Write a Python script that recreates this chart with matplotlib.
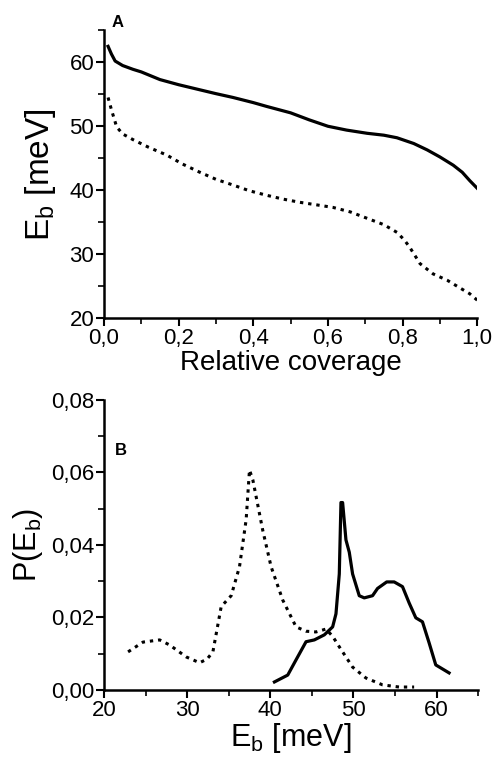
import numpy as np
import matplotlib
matplotlib.use("Agg")
import matplotlib.pyplot as plt
from matplotlib.ticker import MultipleLocator, FuncFormatter

plt.rcParams['font.family'] = ['Liberation Sans', 'DejaVu Sans']

# panel A: binding energy vs relative coverage
cov_solid = [0.011, 0.02, 0.03, 0.05, 0.078, 0.1, 0.15, 0.2, 0.257, 0.3, 0.346, 0.4, 0.436, 0.5, 0.55,
             0.6, 0.65, 0.705, 0.75, 0.785, 0.83, 0.866, 0.9, 0.936, 0.96, 0.98, 1.0]
eb_solid = [62.5, 61.3, 60.2, 59.5, 58.9, 58.5, 57.3, 56.5, 55.7, 55.1, 54.5, 53.7, 53.1, 52.1, 51.0,
            50.0, 49.4, 48.9, 48.6, 48.2, 47.3, 46.3, 45.2, 43.9, 42.8, 41.5, 40.3]
cov_dot = [0.011, 0.02, 0.034, 0.05, 0.078, 0.12, 0.168, 0.21, 0.257, 0.3, 0.346, 0.39, 0.436, 0.48, 0.525,
           0.57, 0.614, 0.66, 0.705, 0.75, 0.785, 0.805, 0.82, 0.847, 0.882, 0.92, 0.954, 0.98, 1.0]
eb_dot = [54.5, 52.6, 49.9, 48.8, 47.9, 46.7, 45.5, 44.1, 42.8, 41.7, 40.8, 39.9, 39.2, 38.6, 38.1,
          37.7, 37.3, 36.6, 35.6, 34.6, 33.4, 32.2, 31.0, 28.5, 26.9, 25.9, 24.7, 23.8, 22.8]

# panel B: distribution P(Eb)
e_dot = [22.9, 24.7, 26.7, 27.9, 29.9, 31.5, 32.4, 33.1, 34.1, 35.3, 36.3, 37.1, 37.5, 37.9, 38.5, 39.1,
         40.1, 41.5, 43.1, 44.3, 45.5, 46.7, 47.5, 48.3, 49.9, 51.5, 53.5, 55.5, 57.3]
p_dot = [0.0105, 0.0132, 0.0138, 0.0124, 0.0091, 0.0075, 0.0085, 0.0105, 0.023, 0.026, 0.034, 0.047,
         0.0607, 0.058, 0.051, 0.044, 0.034, 0.0248, 0.0174, 0.0162, 0.016, 0.0168, 0.0148, 0.0119, 0.0063,
         0.0033, 0.0014, 0.0008, 0.0008]
e_solid = [40.5, 42.1, 43.1, 44.3, 45.3, 46.5, 47.5, 47.9, 48.3, 48.5, 48.7, 49.1, 49.5, 49.9, 50.7, 51.3,
           52.3, 52.9, 54.0, 54.9, 55.9, 56.7, 57.5, 58.3, 59.1, 59.9, 61.5]
p_solid = [0.0022, 0.0041, 0.0083, 0.0133, 0.0138, 0.0152, 0.0174, 0.021, 0.032, 0.0517, 0.0517, 0.0414,
           0.038, 0.032, 0.026, 0.0254, 0.026, 0.028, 0.0298, 0.0298, 0.0285, 0.024, 0.0199, 0.0188, 0.013,
           0.0069, 0.0047]

dots = (0, (1.1, 1.6))


def comma(fmt):
    return FuncFormatter(lambda v, p: (fmt % v).replace('.', ','))


def style(ax):
    for s in ['top', 'right']:
        ax.spines[s].set_visible(False)
    for s in ['left', 'bottom']:
        ax.spines[s].set_linewidth(1.8)
    ax.tick_params(which='major', direction='out', length=6, width=1.5, labelsize=16, pad=1)
    ax.tick_params(which='minor', direction='out', length=4, width=1.2)


fig = plt.figure(figsize=(4.95, 7.59), dpi=100)

ax1 = fig.add_axes([0.210, 0.581, 0.754, 0.379])
ax1.plot(cov_solid, eb_solid, color='black', lw=2.3)
ax1.plot(cov_dot, eb_dot, color='black', lw=2.2, linestyle=dots)
ax1.set_xlim(0, 1.0)
ax1.set_ylim(20, 65)
ax1.xaxis.set_major_locator(MultipleLocator(0.2))
ax1.xaxis.set_minor_locator(MultipleLocator(0.1))
ax1.yaxis.set_major_locator(MultipleLocator(10))
ax1.yaxis.set_minor_locator(MultipleLocator(5))
ax1.xaxis.set_major_formatter(comma('%.1f'))
style(ax1)
ax1.set_xlabel('Relative coverage', fontsize=20, labelpad=1)
ax1.set_ylabel(r'E$_\mathregular{b}$ [meV]', fontsize=24, labelpad=8)
ax1.text(0.02, 1.0, 'A', transform=ax1.transAxes, fontsize=12, fontweight='bold', va='bottom')

ax2 = fig.add_axes([0.210, 0.091, 0.756, 0.382])
ax2.plot(e_dot, p_dot, color='black', lw=2.2, linestyle=dots)
ax2.plot(e_solid, p_solid, color='black', lw=2.3)
ax2.set_xlim(20, 65)
ax2.set_ylim(0, 0.08)
ax2.xaxis.set_major_locator(MultipleLocator(10))
ax2.xaxis.set_minor_locator(MultipleLocator(5))
ax2.yaxis.set_major_locator(MultipleLocator(0.02))
ax2.yaxis.set_minor_locator(MultipleLocator(0.01))
ax2.yaxis.set_major_formatter(comma('%.2f'))
style(ax2)
ax2.set_xlabel(r'E$_\mathregular{b}$ [meV]', fontsize=22, labelpad=0)
ax2.set_ylabel(r'P(E$_\mathregular{b}$)', fontsize=22, labelpad=4)
ax2.text(0.03, 0.81, 'B', transform=ax2.transAxes, fontsize=12, fontweight='bold')

fig.savefig('out.png', dpi=100)
